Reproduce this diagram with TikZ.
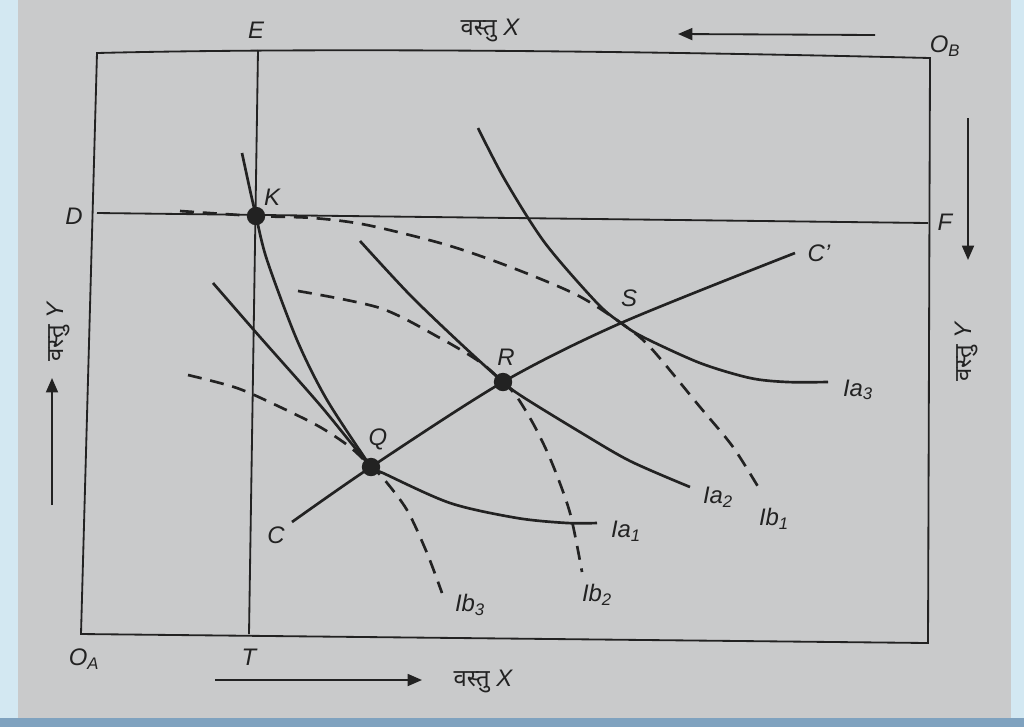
\documentclass[tikz,border=0pt]{standalone}
\usepackage{fontspec}
\setmainfont{Liberation Sans}
\newfontfamily\deva[Script=Devanagari]{Noto Sans}
\usepackage{tikz}
\usetikzlibrary{arrows.meta,positioning}
\definecolor{papier}{HTML}{C9CACB}
\definecolor{cadre}{HTML}{D3E8F2}
\definecolor{cadrebas}{HTML}{7FA2BF}
\definecolor{encre}{HTML}{222222}

\begin{document}
\begin{tikzpicture}[x=0.25mm,y=-0.25mm,
  courbe/.style={encre,line width=1.9pt},
  pointille/.style={encre,line width=1.9pt,dash pattern=on 3.5mm off 2.2mm},
  trait/.style={encre,line width=1.3pt},
  fleche/.style={encre,line width=1.3pt,-{Triangle[length=3.6mm,width=3mm]}},
  lbl/.style={font=\fontsize{17}{19}\selectfont\itshape,text=encre,inner sep=1pt},
  pt/.style={circle,fill=encre,inner sep=0pt,minimum size=4.6mm}]
  % fond
  \fill[cadre] (0,0) rectangle (1024,727);
  \fill[cadrebas] (0,718) rectangle (1024,727);
  \fill[papier] (18,0) rectangle (1011,718);
  \useasboundingbox (0,0) rectangle (1024,727);
  % boite
  \draw[trait] (97,53) .. controls (300,48) and (600,50) .. (930,58) -- (928,643) -- (81,634) -- cycle;
  \draw[trait] (258,50) -- (249,634);
  \draw[trait] (97,213) -- (928,223);
  % points
  \coordinate (K) at (256,216);
  \coordinate (Q) at (371,467);
  \coordinate (R) at (503,382);
  \coordinate (S) at (621,323);
  % courbe des contrats
  \draw[courbe] plot[smooth] coordinates {(292,522) (Q) (R) (S) (795,253)};
  % courbes Ia
  \draw[courbe] plot[smooth] coordinates {(242,153) (250,190) (K) (267,260) (297,340) (327,400) (Q)};
  \draw[courbe] plot[smooth,tension=0.5] coordinates {(213,283) (260,337) (320,405) (Q) (383,473) (450,503) (517,518) (567,523) (597,523)};
  \draw[courbe] plot[smooth] coordinates {(360,241) (410,295) (460,343) (R) (523,397) (580,432) (630,461) (690,487)};
  \draw[courbe] plot[smooth] coordinates {(478,128) (505,180) (545,243) (597,303) (S) (643,337) (700,363) (750,378) (787,382) (828,382)};
  % courbes Ib
  \draw[pointille] plot[smooth] coordinates {(180,211) (K) (313,218) (367,225) (447,245) (513,268) (577,295) (S) (650,347) (700,407) (733,447) (760,490)};
  \draw[pointille] plot[smooth] coordinates {(298,291) (380,308) (440,338) (480,362) (R) (517,397) (535,427) (552,463) (570,513) (582,572)};
  \draw[pointille] plot[smooth] coordinates {(188,375) (237,388) (280,407) (320,427) (350,447) (Q) (383,478) (407,510) (427,553) (442,593)};
  \node[pt] at (K) {};
  \node[pt] at (Q) {};
  \node[pt] at (R) {};
  % etiquettes
  \node[lbl] at (272,197) {K};
  \node[lbl] at (378,439) {Q};
  \node[lbl] at (506,357) {R};
  \node[lbl] at (629,298) {S};
  \node[lbl] at (276,535) {C};
  \node[lbl] at (819,253) {C'};
  \node[lbl] at (626,531) {Ia\textsubscript{1}};
  \node[lbl] at (718,497) {Ia\textsubscript{2}};
  \node[lbl] at (858,390) {Ia\textsubscript{3}};
  \node[lbl] at (774,519) {Ib\textsubscript{1}};
  \node[lbl] at (597,595) {Ib\textsubscript{2}};
  \node[lbl] at (470,605) {Ib\textsubscript{3}};
  \node[lbl] at (256,30) {E};
  \node[lbl] at (249,657) {T};
  \node[lbl] at (74,216) {D};
  \node[lbl] at (945,222) {F};
  \node[lbl] at (945,46) {O\textsubscript{B}};
  \node[lbl] at (84,659) {O\textsubscript{A}};
  % axes
  \node[lbl] (xhaut) at (490,30) {{\upshape\deva वस्तु} X};
  \node[lbl] (xbas) at (483,681) {{\upshape\deva वस्तु} X};
  \node[lbl,rotate=90] (ygauche) at (58,332) {{\upshape\deva वस्तु} Y};
  \node[lbl,rotate=90] (ydroite) at (966,352) {{\upshape\deva वस्तु} Y};
  \coordinate (hd) at (875,35);
  \coordinate (hg) at (678,34);
  \coordinate (bg) at (215,680);
  \coordinate (bd) at (422,680);
  \coordinate (gb) at (52,505);
  \coordinate (gh) at (52,378);
  \coordinate (dh) at (968,118);
  \coordinate (db) at (968,260);
  \draw[fleche] (hd) -- (hg);
  \draw[fleche] (bg) -- (bd);
  \draw[fleche] (gb) -- (gh);
  \draw[fleche] (dh) -- (db);
\end{tikzpicture}
\end{document}
